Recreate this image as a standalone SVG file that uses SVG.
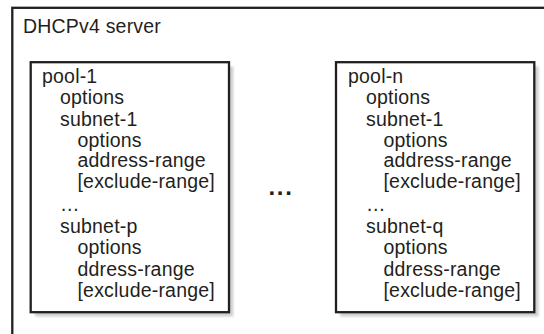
<svg xmlns="http://www.w3.org/2000/svg" width="544" height="334" viewBox="0 0 544 334">
<defs>
<filter id="blur" x="-10%" y="-10%" width="120%" height="120%"><feGaussianBlur stdDeviation="1.2"/></filter>
<style>
.t{font-family:"Liberation Sans",Arial,sans-serif;font-size:19.5px;letter-spacing:0.2px;fill:#231f20}
.box{fill:#fff;stroke:#231f20;stroke-width:2.3}
.shadow{fill:#cfcfcf;filter:url(#blur)}
</style>
</defs>
<rect width="544" height="334" fill="#fff"/>
<g id="server">
<rect class="box" x="12.3" y="7.8" width="600" height="400"/>
<text class="t" x="23" y="33">DHCPv4 server</text>
</g>
<g id="pool-1">
<rect class="shadow" x="35" y="66.5" width="198.3" height="250"/>
<rect class="box" x="30.7" y="62.2" width="198.3" height="250"/>
<text class="t" x="42" y="83">pool-1</text>
<text class="t" x="60" y="104">options</text>
<text class="t" x="60" y="125.5">subnet-1</text>
<text class="t" x="77.5" y="146.5">options</text>
<text class="t" x="77.5" y="167">address-range</text>
<text class="t" x="77.5" y="188">[exclude-range]</text>
<text class="t" x="60" y="211">…</text>
<text class="t" x="60" y="233">subnet-p</text>
<text class="t" x="77.5" y="254">options</text>
<text class="t" x="77.5" y="275.5">ddress-range</text>
<text class="t" x="77.5" y="297">[exclude-range]</text>
</g>
<g id="pool-n">
<rect class="shadow" x="340.3" y="66.5" width="198.3" height="250"/>
<rect class="box" x="336" y="62.2" width="198.3" height="250"/>
<text class="t" x="348" y="83">pool-n</text>
<text class="t" x="366" y="104">options</text>
<text class="t" x="366" y="125.5">subnet-1</text>
<text class="t" x="383.5" y="146.5">options</text>
<text class="t" x="383.5" y="167">address-range</text>
<text class="t" x="383.5" y="188">[exclude-range]</text>
<text class="t" x="366" y="211">…</text>
<text class="t" x="366" y="233">subnet-q</text>
<text class="t" x="383.5" y="254">options</text>
<text class="t" x="383.5" y="275.5">ddress-range</text>
<text class="t" x="383.5" y="297">[exclude-range]</text>
</g>
<g id="ellipsis">
<text x="268.5" y="195" style="font-family:'Liberation Sans',Arial,sans-serif;font-size:24px;font-weight:bold;letter-spacing:1.7px;fill:#231f20">...</text>
</g>
<g id="connectors"></g>
</svg>
